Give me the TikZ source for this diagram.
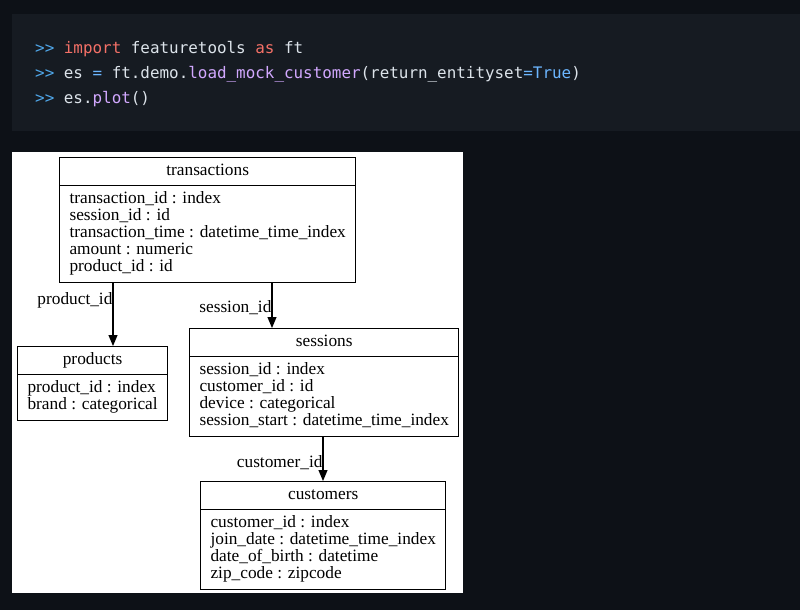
\documentclass[tikz,border=0pt]{standalone}
\usepackage{fontspec}
\setmainfont{Liberation Serif}
\setmonofont{DejaVu Sans Mono}
\usetikzlibrary{arrows.meta,shapes.multipart,positioning}
\definecolor{pagebg}{HTML}{0D1117}
\definecolor{codebg}{HTML}{161B22}
\definecolor{codetext}{HTML}{DCE3EA}
\definecolor{prompt}{HTML}{4FA6E8}
\definecolor{keyword}{HTML}{F47067}
\definecolor{funcname}{HTML}{D2A8FF}
\definecolor{literal}{HTML}{6CB6FF}
\newcommand{\attrs}[1]{\begin{tabular}{@{}l@{}}#1\end{tabular}}

\begin{document}
\begin{tikzpicture}[x=1pt,y=-1pt,
    code/.style={anchor=base west,inner sep=0pt,text=codetext,
      font=\ttfamily\fontsize{15.9}{25}\selectfont},
    entity/.style={rectangle split,rectangle split parts=2,draw=black,
      line width=1.1pt,fill=white,inner xsep=10pt,inner ysep=5pt,
      rectangle split part align={center,left},anchor=north west,
      font=\fontsize{17.3}{17.1}\selectfont},
    fk/.style={draw=black,line width=1.1pt,-{Triangle[length=11pt,width=9pt]}},
    fklabel/.style={anchor=east,inner sep=0pt,
      font=\fontsize{17.3}{17.1}\selectfont}]
  \useasboundingbox (0,0) rectangle (800,610);
  \fill[pagebg] (0,0) rectangle (800,610);
  \fill[codebg] (12,14) rectangle (800,131);
  \fill[white] (12,152) rectangle (463,593);

  % code cell
  \node (line1)[code] at (35,53) {\textcolor{prompt}{>>} \textcolor{keyword}{import} featuretools \textcolor{keyword}{as} ft};
  \node (line2)[code] at (35,78) {\textcolor{prompt}{>>} es \textcolor{literal}{=} ft.demo.\textcolor{funcname}{load\_mock\_customer}(return\_entityset\textcolor{literal}{=True})};
  \node (line3)[code] at (35,103) {\textcolor{prompt}{>>} es.\textcolor{funcname}{plot}()};

  % entity set
  \begin{scope}[every node/.style={entity}]
    \node (transactions) at (59,157) {\strut transactions
      \nodepart{two}\attrs{transaction\_id : index\\ session\_id : id\\
        transaction\_time : datetime\_time\_index\\ amount : numeric\\
        product\_id : id}};
    \node (products) at (17,346) {\strut products
      \nodepart{two}\attrs{product\_id : index\\ brand : categorical}};
    \node (sessions) at (189,328) {\strut sessions
      \nodepart{two}\attrs{session\_id : index\\ customer\_id : id\\
        device : categorical\\ session\_start : datetime\_time\_index}};
    \node (customers) at (200,481) {\strut customers
      \nodepart{two}\attrs{customer\_id : index\\
        join\_date : datetime\_time\_index\\ date\_of\_birth : datetime\\
        zip\_code : zipcode}};
  \end{scope}

  \coordinate (pid) at (113,0);
  \coordinate (sid) at (272,0);
  \coordinate (cid) at (323,0);
  \begin{scope}[every edge/.style={fk},every node/.style={fklabel}]
    \path (transactions.south -| pid) edge node[pos=0.27] {product\_id} (products.north -| pid);
    \path (transactions.south -| sid) edge node[pos=0.54] {session\_id} (sessions.north -| sid);
    \path (sessions.south -| cid) edge node[pos=0.58] {customer\_id} (customers.north -| cid);
  \end{scope}
\end{tikzpicture}
\end{document}
